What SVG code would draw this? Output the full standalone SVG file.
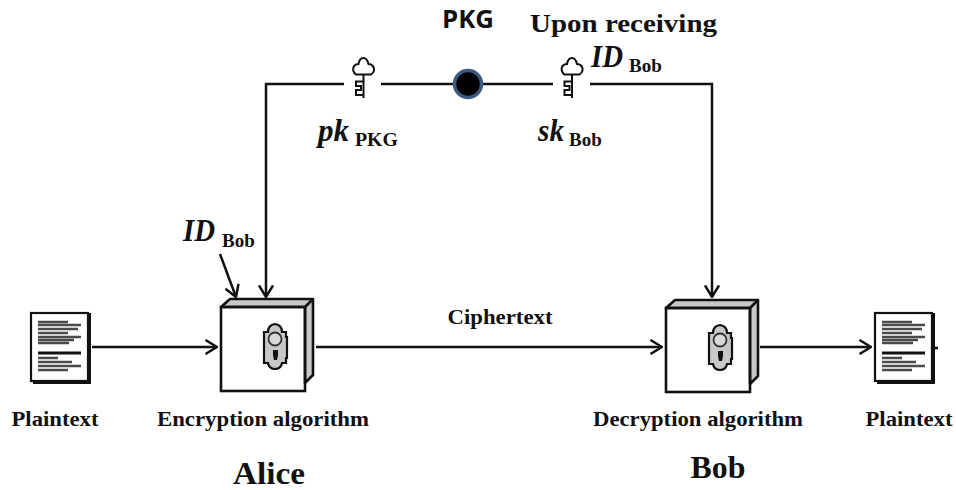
<svg xmlns="http://www.w3.org/2000/svg" width="956" height="490" viewBox="0 0 956 490">
<style>
text{font-family:"Liberation Serif","Times New Roman",serif;font-weight:700;fill:#111}
.lbl{font-size:20px}
.it{font-style:italic;font-size:32px}
.sub{font-size:19px}
.big{font-size:31px}
.conn{fill:none;stroke:#111;stroke-width:2.5}
.edge{fill:none;stroke:#111;stroke-width:2.6;stroke-linejoin:miter}
.side{fill:#c8c8c8;stroke:#111;stroke-width:2.6;stroke-linejoin:round}
.ln{stroke:#4a4a4a;stroke-width:2.6}
.ln2{stroke:#111;stroke-width:3}
</style>
<defs>
<marker id="arr" viewBox="0 0 14 16" refX="13" refY="8" markerWidth="14" markerHeight="16" markerUnits="userSpaceOnUse" orient="auto">
<path d="M1.500 1L13 8L1.500 15" fill="none" stroke="#111" stroke-width="2.500"/>
</marker>
<g id="box">
<path class="side" d="M0 8L9 0H92V76L84 84V8Z"/>
<rect class="edge" x="0" y="8" width="84" height="84" fill="#fff"/>
<path class="edge" d="M84 8L92 0"/>
<path d="M47 33Q47 26 54 25Q61 26 61 33H65V38H66V59H65V64H61Q60 70 54 70Q48 70 47 64H43V59H43V38H43V33Z" fill="#c8c8c8" stroke="#111" stroke-width="2.200"/>
<circle cx="54" cy="40" r="6.500" fill="#d8d8d8" stroke="#333" stroke-width="1.800"/>
<path d="M52 51H57V56L56 61H53L52 56Z" fill="#111"/>
</g>
<g id="doc">
<path d="M-1 0H57V68H-1Z" fill="#fff"/>
<path d="M57 0H59V71H1V68H57Z" fill="#111"/>
<rect x="-1" y="0" width="57" height="68" fill="none" stroke="#111" stroke-width="2.200"/>
<path class="ln" d="M6 9H36M6 12H49M6 16H46M6 20H36M6 24H49M6 27H42M6 30H37"/>
<path class="ln2" d="M6 40H49"/>
<path class="ln" d="M6 45H26M6 49H40M6 53H49M6 57H36"/>
</g>
<g id="key">
<path d="M4 17.500H19Q23.500 14.500 21.500 10Q20 7 16.500 7Q15 1 11.500 1Q7.500 1 6.500 7Q3 7 1.500 10Q0 14.500 4 17.500Z" fill="#fff" stroke="#111" stroke-width="2"/>
<path d="M11.500 17.500V41M11.500 38H4V33H9V29H4V24.500H11.500" fill="none" stroke="#111" stroke-width="2"/>
</g>
</defs>
<rect width="956" height="490" fill="#fff"/>
<g id="connectors">
<path class="conn" d="M344 84H266V297" marker-end="url(#arr)"/>
<path class="conn" d="M381 84H453"/>
<path class="conn" d="M482 84H553"/>
<path class="conn" d="M590 84H712V297" marker-end="url(#arr)"/>
<path class="conn" d="M220 254L236 297" marker-end="url(#arr)"/>
<path class="conn" d="M92 347H217" marker-end="url(#arr)"/>
<path class="conn" d="M316 347H662" marker-end="url(#arr)"/>
<path class="conn" d="M760 347H871" marker-end="url(#arr)"/>
<path class="conn" d="M933 348H938"/>
</g>
<g id="pkg">
<circle cx="468" cy="84" r="13.500" fill="#000" stroke="#3d5a80" stroke-width="3.500"/>
<text x="468" y="28" text-anchor="middle" style="font-family:'Open Sans','Noto Sans',sans-serif;font-size:25px" textLength="52" lengthAdjust="spacingAndGlyphs">PKG</text>
</g>
<g id="upon-receiving">
<text x="530" y="32" font-size="26" textLength="187" lengthAdjust="spacingAndGlyphs">Upon receiving</text>
<text x="591" y="67" class="it" textLength="32" lengthAdjust="spacingAndGlyphs">ID</text><text x="629" y="72" class="sub">Bob</text>
</g>
<g id="pk-key">
<use href="#key" x="352" y="57"/>
<text x="318" y="141" class="it" textLength="31" lengthAdjust="spacingAndGlyphs">pk</text><text x="355" y="146" class="sub" textLength="43" lengthAdjust="spacingAndGlyphs">PKG</text>
</g>
<g id="sk-key">
<use href="#key" x="560.500" y="57"/>
<text x="538" y="141" class="it" textLength="26" lengthAdjust="spacingAndGlyphs">sk</text><text x="569" y="146" class="sub">Bob</text>
</g>
<g id="id-bob">
<text x="183" y="241" class="it" textLength="32" lengthAdjust="spacingAndGlyphs">ID</text><text x="222" y="247" class="sub">Bob</text>
</g>
<g id="plaintext-in">
<use href="#doc" x="32" y="313"/>
<text x="55" y="425.500" class="lbl" text-anchor="middle" textLength="87" lengthAdjust="spacingAndGlyphs">Plaintext</text>
</g>
<g id="encryption">
<use href="#box" x="221" y="299"/>
<text x="263" y="425.500" class="lbl" text-anchor="middle" textLength="212" lengthAdjust="spacingAndGlyphs">Encryption algorithm</text>
<text x="269" y="484" class="big" text-anchor="middle" textLength="72" lengthAdjust="spacingAndGlyphs">Alice</text>
</g>
<g id="ciphertext"><text x="500" y="324" class="lbl" text-anchor="middle" textLength="105" lengthAdjust="spacingAndGlyphs">Ciphertext</text></g>
<g id="decryption">
<use href="#box" x="666" y="300"/>
<text x="698" y="425.500" class="lbl" text-anchor="middle" textLength="210" lengthAdjust="spacingAndGlyphs">Decryption algorithm</text>
<text x="718" y="478" class="big" text-anchor="middle" textLength="55" lengthAdjust="spacingAndGlyphs">Bob</text>
</g>
<g id="plaintext-out">
<use href="#doc" x="876" y="313"/>
<text x="909" y="425.500" class="lbl" text-anchor="middle" textLength="87" lengthAdjust="spacingAndGlyphs">Plaintext</text>
</g>
</svg>
